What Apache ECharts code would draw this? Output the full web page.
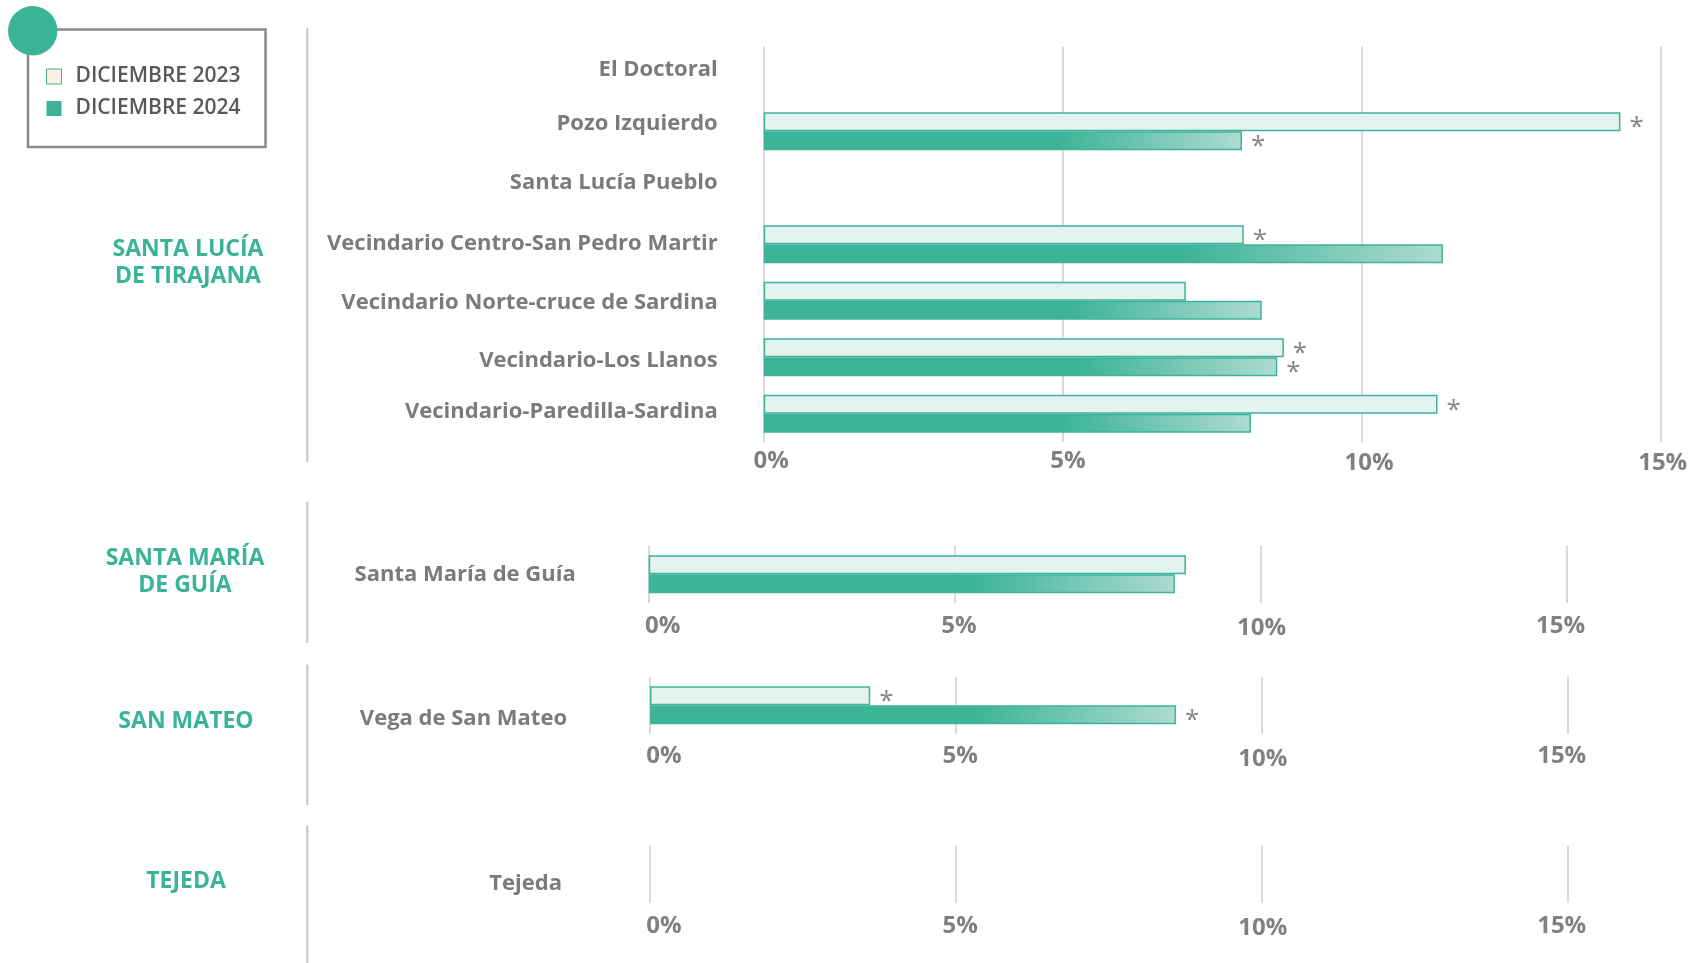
<!DOCTYPE html>
<html><head><meta charset="utf-8">
<script src="https://cdn.jsdelivr.net/npm/echarts@6/dist/echarts.min.js"></script>
<style>html,body{margin:0;padding:0;background:#fff}#c{width:1692px;height:963px}</style>
</head><body><div id="c"></div>
<script>
// ---------- data ----------
const seriesNames = ['DICIEMBRE 2023', 'DICIEMBRE 2024'];
const xTickLabels = ['0%', '5%', '10%', '15%'];

const catsLucia = ['El Doctoral', 'Pozo Izquierdo', 'Santa Lucía Pueblo', 'Vecindario Centro-San Pedro Martir',
  'Vecindario Norte-cruce de Sardina', 'Vecindario-Los Llanos', 'Vecindario-Paredilla-Sardina'];
const lucia2023 = [null, 14.33, null, 8.03, 7.06, 8.70, 11.27];
const lucia2024 = [null, 8.00, null, 11.36, 8.33, 8.59, 8.15];
const luciaStar2023 = [false, true, false, true, false, true, true];
const luciaStar2024 = [false, true, false, false, false, true, false];

const catsGuia = ['Santa María de Guía'];
const guia2023 = [8.78];
const guia2024 = [8.60];
const guiaStar2023 = [false];
const guiaStar2024 = [false];

const catsMateo = ['Vega de San Mateo'];
const mateo2023 = [3.60];
const mateo2024 = [8.60];
const mateoStar2023 = [true];
const mateoStar2024 = [true];

const catsTejeda = ['Tejeda'];
const tejeda2023 = [null];
const tejeda2024 = [null];
const tejedaStar2023 = [false];
const tejedaStar2024 = [false];

const groupNames = ['SANTA LUCÍA\nDE TIRAJANA', 'SANTA MARÍA\nDE GUÍA', 'SAN MATEO', 'TEJEDA'];

// ---------- styles ----------
const FONT = 'Open Sans';
const GREEN = '#3db498';
const GREY = '#7b7b7b';

const panels = [
  { cats: catsLucia, d23: lucia2023, d24: lucia2024, s23: luciaStar2023, s24: luciaStar2024,
    grid: { left: 763.7, right: 31.5, top: 46.5, height: 395.5 }, labelMargin: 46, tickMargin: 7,
    nudge: [-5.4, -7.5, -5.4, -1, 2.2, 3.2, -2.2], tickDx: [7.5, 5.4, 7.5, 2.2], tickDy: [0, 0, 1, 1] },
  { cats: catsGuia, d23: guia2023, d24: guia2024, s23: guiaStar2023, s24: guiaStar2024,
    grid: { left: 648.7, right: 125.5, top: 545.7, height: 57.3 }, labelMargin: 73, tickMargin: 11,
    nudge: [0], tickDx: [14, 4.3, 1, -5.9], tickDy: [0, 0, 1, 0] },
  { cats: catsMateo, d23: mateo2023, d24: mateo2024, s23: mateoStar2023, s24: mateoStar2024,
    grid: { left: 650, right: 124.4, top: 676.7, height: 57.3 }, labelMargin: 83, tickMargin: 10,
    nudge: [13], tickDx: [14, 4.3, 1, -5.9], tickDy: [0, 0, 1.5, 0] },
  { cats: catsTejeda, d23: tejeda2023, d24: tejeda2024, s23: tejedaStar2023, s24: tejedaStar2024,
    grid: { left: 650, right: 124.4, top: 845.7, height: 57 }, labelMargin: 88, tickMargin: 11,
    nudge: [9.7], tickDx: [14, 4.3, 1, -5.9], tickDy: [0, 0, 1, 0] }
];

function padFor(dx, dy) {
  // rich-token padding that moves centred text by (dx, dy)
  return [dy > 0 ? 2 * dy : 0, dx < 0 ? -2 * dx : 0, dy < 0 ? -2 * dy : 0, dx > 0 ? 2 * dx : 0];
}

const grids = [], xAxes = [], yAxes = [], series = [];
panels.forEach((p, i) => {
  grids.push(Object.assign({ containLabel: false }, p.grid));
  const tickRich = {};
  xTickLabels.forEach((t, k) => {
    tickRich['t' + k] = { color: '#808080', fontFamily: FONT, fontWeight: 'bold', fontSize: 24,
      padding: padFor(p.tickDx[k], p.tickDy[k]) };
  });
  xAxes.push({
    type: 'value', gridIndex: i, min: 0, max: 15, interval: 5,
    axisLine: { show: false }, axisTick: { show: false },
    splitLine: { show: true, lineStyle: { color: '#dadada', width: 2 } },
    axisLabel: {
      margin: p.tickMargin, color: '#808080', fontFamily: FONT, fontWeight: 'bold', fontSize: 24,
      formatter: v => { const k = Math.round(v / 5); return '{t' + k + '|' + xTickLabels[k] + '}'; },
      rich: tickRich
    }
  });
  const catRich = {};
  p.cats.forEach((c, k) => {
    catRich['c' + k] = { color: GREY, fontFamily: FONT, fontWeight: 'bold', fontSize: 22,
      padding: padFor(0, p.nudge[k] || 0) };
  });
  yAxes.push({
    type: 'category', gridIndex: i, inverse: true, data: p.cats,
    axisLine: { show: false }, axisTick: { show: false }, splitLine: { show: false },
    axisLabel: {
      margin: p.labelMargin, color: GREY, fontFamily: FONT, fontWeight: 'bold', fontSize: 22,
      formatter: (v, k) => '{c' + k + '|' + v + '}', rich: catRich
    }
  });
  const starLabel = flags => ({
    show: true, position: 'right', distance: 9, color: '#858585', fontFamily: FONT, fontSize: 26,
    offset: [0, 6], formatter: prm => flags[prm.dataIndex] ? '*' : ''
  });
  series.push({
    name: seriesNames[0], type: 'bar', xAxisIndex: i, yAxisIndex: i, data: p.d23,
    barWidth: 19, barGap: '0%',
    itemStyle: { color: '#e4f3ef', borderColor: GREEN, borderWidth: 1.5 },
    label: starLabel(p.s23), silent: true
  });
  series.push({
    name: seriesNames[1], type: 'bar', xAxisIndex: i, yAxisIndex: i, data: p.d24,
    barWidth: 19, barGap: '0%',
    itemStyle: {
      color: new echarts.graphic.LinearGradient(0, 0, 1, 0, [
        { offset: 0, color: GREEN }, { offset: 0.62, color: GREEN }, { offset: 1, color: '#aedbd0' }]),
      borderColor: GREEN, borderWidth: 1.5
    },
    label: starLabel(p.s24), silent: true
  });
});

const sepX = 307.3;
const separators = [[28.3, 462], [501.8, 643.1], [664.7, 805], [825.5, 963]];
const groupPos = [[188, 263], [185, 571.5], [186, 721], [186, 881.5]];

const graphic = [];
separators.forEach(s => graphic.push({
  type: 'line', shape: { x1: sepX, y1: s[0], x2: sepX, y2: s[1] },
  style: { stroke: '#c4c4c4', lineWidth: 2 }, silent: true
}));
graphic.push({ type: 'rect', shape: { x: 28, y: 29.5, width: 237.5, height: 117.5 },
  style: { fill: 'none', stroke: '#8a8a8a', lineWidth: 2.5 }, z: 10, silent: true });
graphic.push({ type: 'circle', shape: { cx: 32.7, cy: 30.7, r: 24.7 },
  style: { fill: '#3ab397' }, z: 11, silent: true });
groupNames.forEach((g, i) => graphic.push({
  type: 'text', x: groupPos[i][0], y: groupPos[i][1],
  style: { text: g, fill: '#3ab397', font: 'bold 23px "Open Sans"', align: 'center', verticalAlign: 'middle', lineHeight: 27 },
  silent: true
}));

const chart = echarts.init(document.getElementById('c'), null, { renderer: 'canvas' });
chart.setOption({
  animation: false,
  backgroundColor: '#fff',
  grid: grids, xAxis: xAxes, yAxis: yAxes, series: series,
  legend: {
    orient: 'vertical', left: 46, top: 66, padding: 0, itemGap: 11, itemWidth: 15, itemHeight: 15,
    selectedMode: false, icon: 'rect',
    textStyle: { fontFamily: FONT, fontWeight: 600, fontSize: 21, lineHeight: 20, color: '#595959', padding: [0, 0, 0, 9] },
    data: [
      { name: seriesNames[0], itemStyle: { color: '#fdf0e2', borderColor: GREEN, borderWidth: 1 } },
      { name: seriesNames[1], itemStyle: { color: GREEN, borderWidth: 0 } }
    ]
  },
  graphic: graphic
});
</script></body></html>
